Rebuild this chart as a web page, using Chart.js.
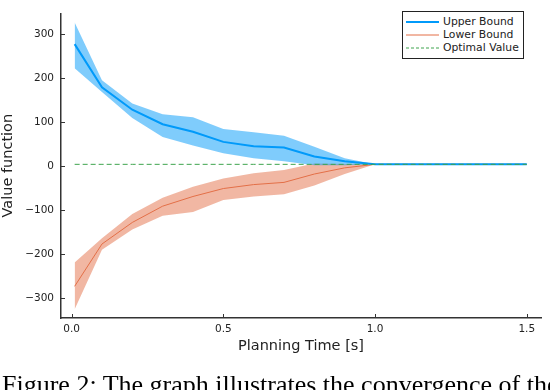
<!DOCTYPE html>
<html>
<head>
<meta charset="utf-8">
<script src="https://cdn.jsdelivr.net/npm/chart.js@4"></script>
<style>
  html, body { margin: 0; padding: 0; background: #fff; }
  #wrap { position: relative; width: 550px; height: 390px; overflow: hidden; }
  #legend {
    position: absolute; left: 402px; top: 11px; width: 122px; height: 48px;
    border: 1px solid #222; background: #fff; box-sizing: border-box;
    font: 10.8px "DejaVu Sans", sans-serif; color: #222;
  }
  #legend .row { position: absolute; left: 3px; height: 13px; line-height: 13px; white-space: nowrap; }
  #legend svg { vertical-align: middle; margin-right: 4px; }
  #caption {
    position: absolute; left: 2px; top: 372px; white-space: nowrap;
    font: 26px "Liberation Serif", serif; line-height: 26px; color: #000;
  }
</style>
</head>
<body>
<div id="wrap">
  <canvas id="chart"></canvas>
  <div id="legend"></div>
  <div id="caption">Figure 2: The graph illustrates the convergence of the</div>
</div>
<script>
// data
const times = [0.01, 0.1, 0.2, 0.3, 0.4, 0.5, 0.6, 0.7, 0.8, 0.9, 1.0, 1.1, 1.2, 1.3, 1.4, 1.5];
const upperMean = [277, 179, 128, 95, 78, 55, 45, 42, 22, 11, 4, 4, 4, 4, 4, 4];
const upperHigh = [326, 195, 142, 118, 111, 84, 77, 69, 44, 18, 4, 4, 4, 4, 4, 4];
const upperLow  = [222, 168, 109, 66, 47, 29, 18, 11, 2, 2, 4, 4, 4, 4, 4, 4];
const lowerMean = [-273, -177, -128, -91, -69, -51, -42, -37, -18, -4, 4, 4, 4, 4, 4, 4];
const lowerHigh = [-219, -164, -109, -72, -47, -28, -16, -9, 6, 5, 4, 4, 4, 4, 4, 4];
const lowerLow  = [-325, -190, -144, -113, -104, -77, -69, -64, -44, -18, 4, 4, 4, 4, 4, 4];
const optimalValue = 4;
const xTicks = [0, 0.5, 1.0, 1.5];
const yTicks = [-300, -200, -100, 0, 100, 200, 300];

const BLUE = '#009AFA', ORANGE = '#E36F47', GREEN = '#3EA44E';

const pts = arr => times.map((t, i) => ({ x: t, y: arr[i] }));

// legend entries
const legendItems = [
  { label: 'Upper Bound', color: BLUE, width: 2, dash: '' },
  { label: 'Lower Bound', color: ORANGE, width: 1, dash: '' },
  { label: 'Optimal Value', color: GREEN, width: 1, dash: '3,2' }
];
document.getElementById('legend').innerHTML = legendItems.map((it, i) =>
  `<div class="row" style="top:${3 + i * 13}px"><svg width="33" height="6"><line x1="0" y1="3" x2="33" y2="3" stroke="${it.color}" stroke-width="${it.width}" stroke-dasharray="${it.dash}"/></svg>${it.label}</div>`
).join('');

// short ticks pointing into the plot, like the original
const innerTicks = {
  id: 'innerTicks',
  afterDraw(chart) {
    const { ctx, chartArea, scales } = chart;
    ctx.save();
    ctx.strokeStyle = '#333';
    ctx.lineWidth = 1;
    ctx.beginPath();
    xTicks.forEach(v => {
      const x = Math.round(scales.x.getPixelForValue(v)) + 0.5;
      ctx.moveTo(x, chartArea.bottom);
      ctx.lineTo(x, chartArea.bottom - 4);
    });
    yTicks.forEach(v => {
      const y = Math.round(scales.y.getPixelForValue(v)) + 0.5;
      ctx.moveTo(chartArea.left, y);
      ctx.lineTo(chartArea.left + 4, y);
    });
    ctx.stroke();
    ctx.restore();
  }
};

const band = (arr, fill, color) => ({
  data: pts(arr), fill: fill, backgroundColor: color,
  borderWidth: 0, pointRadius: 0, tension: 0, order: 3
});

new Chart(document.getElementById('chart'), {
  type: 'line',
  data: {
    datasets: [
      band(upperHigh, false, 'transparent'),
      band(upperLow, '-1', 'rgba(0,154,250,0.5)'),
      band(lowerHigh, false, 'transparent'),
      band(lowerLow, '-1', 'rgba(227,111,71,0.5)'),
      { label: 'Upper Bound', data: pts(upperMean), borderColor: BLUE, borderWidth: 2, pointRadius: 0, fill: false, order: 2 },
      { label: 'Lower Bound', data: pts(lowerMean), borderColor: ORANGE, borderWidth: 1, pointRadius: 0, fill: false, order: 2 },
      { label: 'Optimal Value', data: times.map(t => ({ x: t, y: optimalValue })), borderColor: GREEN, borderWidth: 1, borderDash: [5, 3], pointRadius: 0, fill: false, order: 1 }
    ]
  },
  options: {
    responsive: true,
    maintainAspectRatio: false,
    animation: false,
    layout: { padding: { top: 2, right: 9, bottom: 34, left: 0 } },
    plugins: { legend: { display: false }, tooltip: { enabled: false } },
    scales: {
      x: {
        type: 'linear', min: -0.035, max: 1.547,
        grid: { display: false, drawTicks: false },
        border: { display: true, color: '#333', width: 1.5 },
        afterBuildTicks: s => { s.ticks = xTicks.map(v => ({ value: v })); },
        afterFit: s => { s.height = 38; },
        ticks: { color: '#222', padding: 5, font: { family: 'DejaVu Sans', size: 10.5 }, callback: v => v.toFixed(1) },
        title: { display: true, text: 'Planning Time [s]', color: '#222', font: { family: 'DejaVu Sans', size: 14.5 }, padding: { top: 0, bottom: 1 } }
      },
      y: {
        min: -345, max: 347,
        grid: { display: false, drawTicks: false },
        border: { display: true, color: '#333', width: 1.5 },
        afterBuildTicks: s => { s.ticks = yTicks.map(v => ({ value: v })); },
        afterFit: s => { s.width = 61; },
        ticks: { color: '#222', padding: 7, font: { family: 'DejaVu Sans', size: 10.5 }, callback: v => v < 0 ? '\u2212' + Math.abs(v) : String(v) },
        title: { display: true, text: 'Value function', color: '#222', font: { family: 'DejaVu Sans', size: 14.5 }, padding: { top: 0, bottom: 0 } }
      }
    }
  },
  plugins: [innerTicks]
});
</script>
</body>
</html>
